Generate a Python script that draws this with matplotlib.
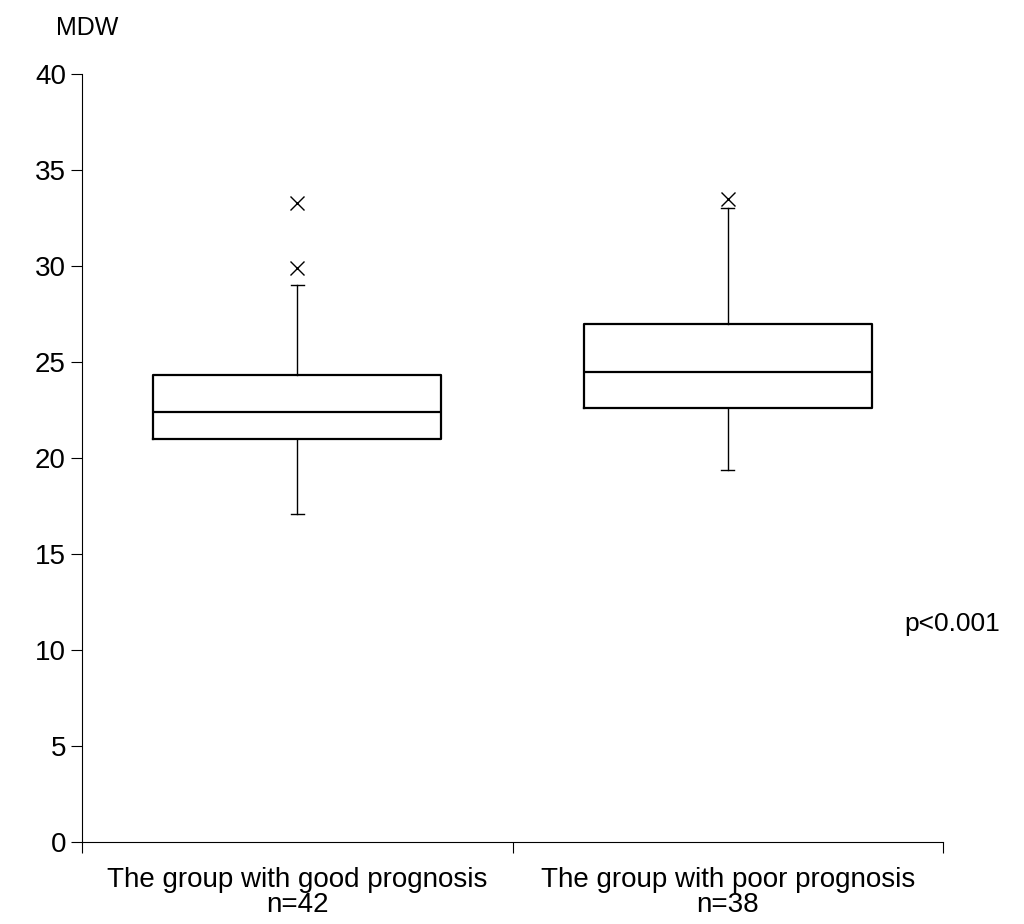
import matplotlib
matplotlib.use("Agg")  # use non-GUI backend
import matplotlib.pyplot as plt

plt.rcParams["font.family"] = ["Liberation Sans", "DejaVu Sans"]


def main():
    # Box statistics
    stats = [
        {"label": "The group with good prognosis\nn=42", "q1": 21.0, "med": 22.4,
         "q3": 24.3, "whislo": 17.1, "whishi": 29.0, "fliers": [33.3, 29.9]},
        {"label": "The group with poor prognosis\nn=38", "q1": 22.6, "med": 24.5,
         "q3": 27.0, "whislo": 19.4, "whishi": 33.0, "fliers": [33.5]},
    ]

    fig = plt.figure(figsize=(10.24, 9.24), dpi=100)
    ax = fig.add_axes([0.080, 0.0887, 0.841, 0.8313])
    ax.bxp(stats, positions=[0.5, 1.5], widths=0.67, capwidths=0.03,
           boxprops=dict(color="black", linewidth=1.6),
           medianprops=dict(color="black", linewidth=1.6),
           whiskerprops=dict(color="black", linewidth=1.0),
           capprops=dict(color="black", linewidth=1.0),
           flierprops=dict(marker="x", markeredgecolor="black", markersize=10))

    ax.set_xlim(0, 2)
    ax.set_ylim(0, 40)
    ax.set_yticks(range(0, 41, 5))
    ax.set_xticks([0, 1, 2])
    ax.set_xticklabels([])
    ax.set_xticks([0.5, 1.5], minor=True)
    ax.set_xticklabels([s["label"] for s in stats], minor=True, fontsize=20,
                       linespacing=0.95)
    ax.tick_params(axis="x", which="minor", length=0, pad=18)
    ax.tick_params(axis="x", which="major", length=8)
    ax.tick_params(axis="y", labelsize=20, length=8)
    for s in ["top", "right"]:
        ax.spines[s].set_visible(False)

    fig.text(0.055, 0.962, "MDW", fontsize=18)
    fig.text(0.883, 0.317, "p<0.001", fontsize=19)

    fig.savefig("out.png", dpi=100)
    plt.close()


if __name__ == "__main__":
    main()
